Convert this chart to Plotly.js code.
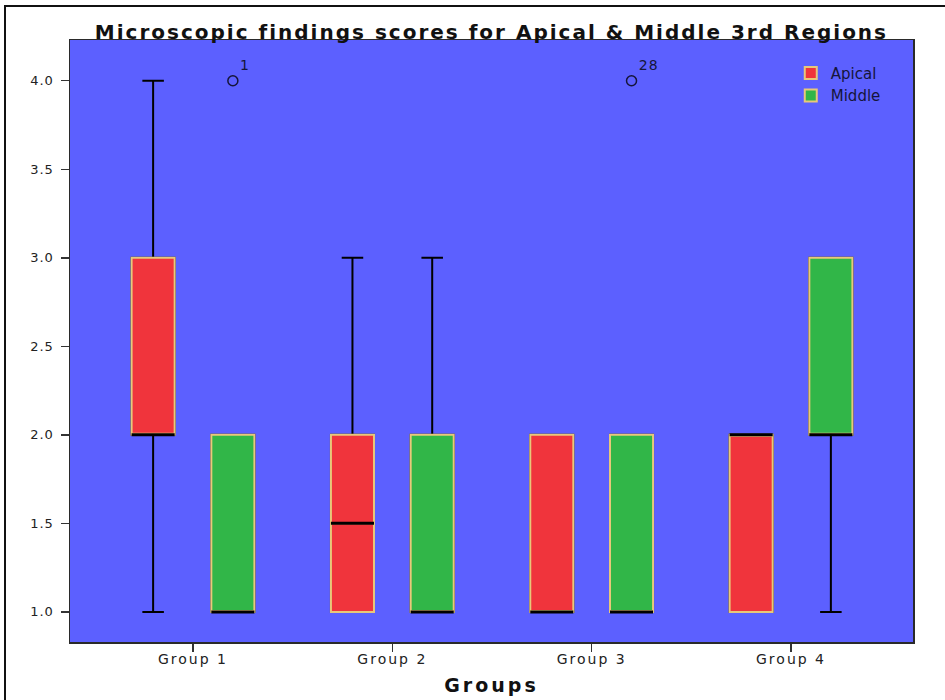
<!DOCTYPE html>
<html>
<head>
<meta charset="utf-8">
<script src="https://cdn.plot.ly/plotly-3.0.1.min.js"></script>
<style>
  html, body { margin: 0; padding: 0; background: #ffffff; }
  #chart { width: 945px; height: 700px; }
  #chart .gtitle { letter-spacing: 2px; }
  #chart .xtick text { letter-spacing: 2px; }
  #chart .ytick text { letter-spacing: 1px; }
  #chart .xtitle { letter-spacing: 3px; }
  #chart .textpoint text { letter-spacing: 1px; }
</style>
</head>
<body>
<div id="chart"></div>
<script>
// ---- data ----
const groups = ['Group 1', 'Group 2', 'Group 3', 'Group 4'];

const apicalMin    = [1, 1, 1, 1];
const apicalQ1     = [2, 1, 1, 1];
const apicalMedian = [2, 1.5, 1, 2];
const apicalQ3     = [3, 2, 2, 2];
const apicalMax    = [4, 3, 2, 2];

const middleMin    = [1, 1, 1, 1];
const middleQ1     = [1, 1, 1, 2];
const middleMedian = [1, 1, 1, 2];
const middleQ3     = [2, 2, 2, 3];
const middleMax    = [2, 3, 2, 3];

const middleOutlierGroups = ['Group 1', 'Group 3'];
const middleOutlierValues = [4, 4];
const middleOutlierCases  = ['1', '28'];

const yTickVals = [1.0, 1.5, 2.0, 2.5, 3.0, 3.5, 4.0];
const yTickText = ['1.0', '1.5', '2.0', '2.5', '3.0', '3.5', '4.0'];

// ---- styling ----
const BOXGAP = 0.2;
const BOXGROUPGAP = 0.46;
const XRANGE = [-0.617, 3.612];
const FILL_APICAL = '#f0343c';
const FILL_MIDDLE = '#31b648';
const EDGE = '#e8c87a';

function layers(name, group, fill, mn, q1, med, q3, mx) {
  const common = { type: 'box', x: groups, offsetgroup: group, hoverinfo: 'skip', whiskerwidth: 0.5 };
  return [
    // whiskers (black)
    Object.assign({}, common, {
      name: name, showlegend: false,
      q1: q1, median: med, q3: q3, lowerfence: mn, upperfence: mx,
      fillcolor: 'rgba(0,0,0,0)', line: { color: '#000000', width: 2 }
    }),
    // box body
    Object.assign({}, common, {
      name: name, showlegend: true, legendgroup: group,
      q1: q1, median: med, q3: q3, lowerfence: q1, upperfence: q3,
      fillcolor: fill, line: { color: EDGE, width: 2 }
    }),
    // median (black)
    Object.assign({}, common, {
      name: name, showlegend: false,
      q1: med, median: med, q3: med, lowerfence: med, upperfence: med,
      fillcolor: 'rgba(0,0,0,0)', line: { color: '#000000', width: 3 }
    })
  ];
}

const middleOffset = (1 - BOXGAP) / 4;
const outlierX = middleOutlierGroups.map(g => groups.indexOf(g) + middleOffset);

const traces = [].concat(
  layers('Apical', 'a', FILL_APICAL, apicalMin, apicalQ1, apicalMedian, apicalQ3, apicalMax),
  layers('Middle', 'm', FILL_MIDDLE, middleMin, middleQ1, middleMedian, middleQ3, middleMax),
  [{
    type: 'scatter', mode: 'markers+text', xaxis: 'x2', yaxis: 'y',
    x: outlierX, y: middleOutlierValues, text: middleOutlierCases,
    textposition: 'top right',
    textfont: { family: 'DejaVu Sans, sans-serif', size: 14, color: '#15153a' },
    marker: { symbol: 'circle-open', size: 10, color: '#15153a', line: { width: 1.5, color: '#15153a' } },
    showlegend: false, hoverinfo: 'skip', cliponaxis: false
  }]
);

const layout = {
  width: 945, height: 700,
  margin: { l: 70, r: 32, t: 40, b: 58 },
  paper_bgcolor: '#ffffff',
  plot_bgcolor: '#5c60ff',
  boxmode: 'group', boxgap: BOXGAP, boxgroupgap: BOXGROUPGAP,
  title: {
    text: 'Microscopic findings scores for Apical &amp; Middle 3rd Regions',
    font: { family: 'DejaVu Sans, sans-serif', size: 20, color: '#111111', weight: 'bold' },
    x: 0.52, xanchor: 'center', y: 0.955, yanchor: 'middle'
  },
  font: { family: 'DejaVu Sans, sans-serif', color: '#222222' },
  xaxis: {
    type: 'category', range: XRANGE, fixedrange: true,
    showgrid: false, zeroline: false,
    showline: true, mirror: true, linecolor: '#2a2a2a', linewidth: 1.5,
    ticks: 'outside', ticklen: 8, tickwidth: 1.5, tickcolor: '#333333',
    tickfont: { size: 14, color: '#222222' }, ticklabelstandoff: -4,
    title: { text: 'Groups', font: { size: 19, weight: 'bold', color: '#111111' }, standoff: 12 }
  },
  xaxis2: {
    overlaying: 'x', range: XRANGE, visible: false, fixedrange: true
  },
  yaxis: {
    range: [0.83, 4.23], fixedrange: true,
    tickvals: yTickVals, ticktext: yTickText,
    showgrid: false, zeroline: false,
    showline: true, mirror: true, linecolor: '#2a2a2a', linewidth: 1.5,
    ticks: 'outside', ticklen: 8, tickwidth: 1.5, tickcolor: '#333333',
    tickfont: { size: 13, color: '#222222' }, ticklabelstandoff: 4
  },
  legend: {
    x: 0.855, y: 0.972, xanchor: 'left', yanchor: 'top',
    bgcolor: 'rgba(0,0,0,0)', borderwidth: 0,
    font: { family: 'DejaVu Sans, sans-serif', size: 15, color: '#15153a' },
    tracegroupgap: 0, itemwidth: 30
  },
  shapes: [{
    type: 'rect', xref: 'paper', yref: 'paper', layer: 'below',
    x0: -65 / 843, x1: 890 / 843, y0: -70 / 602, y1: 636 / 602,
    line: { color: '#111111', width: 2 }, fillcolor: 'rgba(0,0,0,0)'
  }]
};

Plotly.newPlot('chart', traces, layout, { staticPlot: true, displayModeBar: false });
</script>
</body>
</html>
